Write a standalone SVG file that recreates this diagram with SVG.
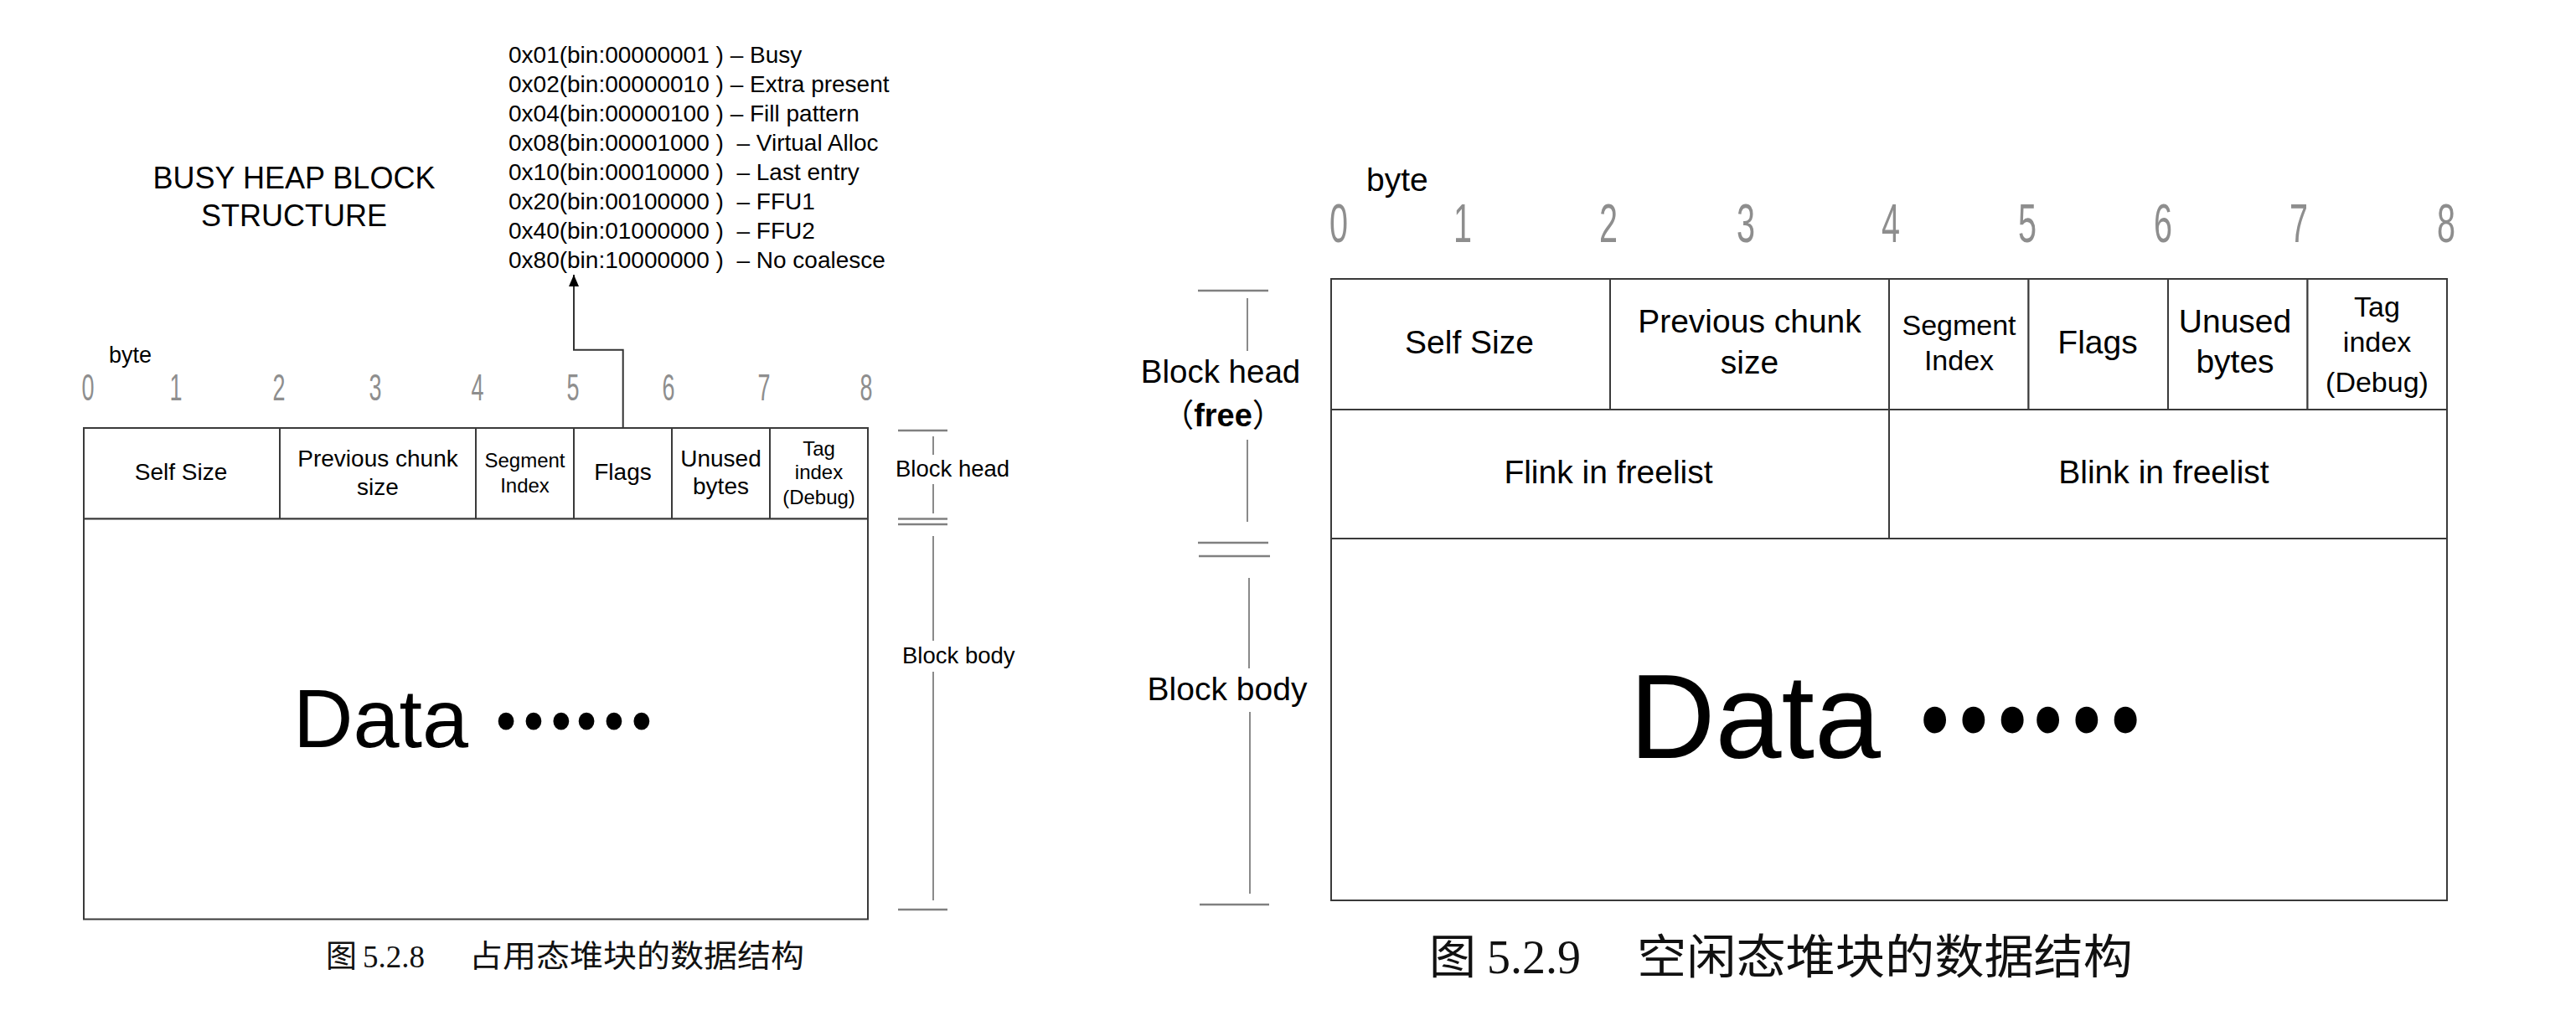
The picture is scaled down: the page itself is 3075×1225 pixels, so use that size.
<svg xmlns="http://www.w3.org/2000/svg" width="3075" height="1225" viewBox="0 0 3075 1225">
<style>
.bg{fill:#ffffff}
.cell{fill:#ffffff;stroke:#3a3a3a;stroke-width:2}
.t{font-family:"Liberation Sans",Arial,sans-serif;fill:#000000}
.m{text-anchor:middle}
.dig{font-family:"Liberation Sans",Arial,sans-serif;fill:#8e8e8e;text-anchor:middle}
.dots{font-family:"Noto Sans CJK SC",sans-serif;font-weight:bold;fill:#000000;stroke:#000000}
.cap{font-family:"Liberation Serif","Noto Sans CJK SC",serif;fill:#111111}
.cjk{font-family:"Noto Sans CJK SC",sans-serif}
.bar{stroke:#808080;stroke-width:2.5;fill:none}
.vl{stroke:#8a8a8a;stroke-width:2;fill:none}
.conn{stroke:#333333;stroke-width:2;fill:none}
</style>
<defs>
<marker id="arrow" markerUnits="userSpaceOnUse" markerWidth="14" markerHeight="12" refX="14" refY="6" orient="auto">
<path d="M0,0 L14,6 L0,12 z" fill="#000000"/>
</marker>
</defs>
<rect class="bg" x="0" y="0" width="3075" height="1225"/>

<!-- ===== Left diagram: busy heap block ===== -->
<g id="busy-title">
<text class="t m" x="351" y="225" font-size="36">BUSY HEAP BLOCK</text>
<text class="t m" x="351" y="270" font-size="36">STRUCTURE</text>
</g>

<g id="flags-legend" font-size="28">
<text class="t" x="607" y="75" xml:space="preserve">0x01(bin:00000001 ) – Busy</text>
<text class="t" x="607" y="110" xml:space="preserve">0x02(bin:00000010 ) – Extra present</text>
<text class="t" x="607" y="145" xml:space="preserve">0x04(bin:00000100 ) – Fill pattern</text>
<text class="t" x="607" y="180" xml:space="preserve">0x08(bin:00001000 )  – Virtual Alloc</text>
<text class="t" x="607" y="215" xml:space="preserve">0x10(bin:00010000 )  – Last entry</text>
<text class="t" x="607" y="250" xml:space="preserve">0x20(bin:00100000 )  – FFU1</text>
<text class="t" x="607" y="285" xml:space="preserve">0x40(bin:01000000 )  – FFU2</text>
<text class="t" x="607" y="320" xml:space="preserve">0x80(bin:10000000 )  – No coalesce</text>
</g>

<g id="busy-scale">
<text class="t" x="130" y="433" font-size="27">byte</text>
<g font-size="44">
<text class="dig" x="105" y="478" textLength="15" lengthAdjust="spacingAndGlyphs">0</text>
<text class="dig" x="210" y="478" textLength="15" lengthAdjust="spacingAndGlyphs">1</text>
<text class="dig" x="333" y="478" textLength="15" lengthAdjust="spacingAndGlyphs">2</text>
<text class="dig" x="448" y="478" textLength="15" lengthAdjust="spacingAndGlyphs">3</text>
<text class="dig" x="570" y="478" textLength="15" lengthAdjust="spacingAndGlyphs">4</text>
<text class="dig" x="684" y="478" textLength="15" lengthAdjust="spacingAndGlyphs">5</text>
<text class="dig" x="798" y="478" textLength="15" lengthAdjust="spacingAndGlyphs">6</text>
<text class="dig" x="912" y="478" textLength="15" lengthAdjust="spacingAndGlyphs">7</text>
<text class="dig" x="1034" y="478" textLength="15" lengthAdjust="spacingAndGlyphs">8</text>
</g>
</g>

<g id="busy-self-size">
<rect class="cell" x="100" y="511" width="234" height="108.5"/>
<text class="t m" x="216" y="573" font-size="28">Self Size</text>
</g>
<g id="busy-prev-size">
<rect class="cell" x="334" y="511" width="234" height="108.5"/>
<text class="t m" x="451" y="557" font-size="28">Previous chunk</text>
<text class="t m" x="451" y="591" font-size="28">size</text>
</g>
<g id="busy-segment">
<rect class="cell" x="568" y="511" width="117" height="108.5"/>
<text class="t m" x="626.5" y="558" font-size="24">Segment</text>
<text class="t m" x="626.5" y="588" font-size="24">Index</text>
</g>
<g id="busy-flags">
<rect class="cell" x="685" y="511" width="117" height="108.5"/>
<text class="t m" x="743.5" y="573" font-size="28">Flags</text>
</g>
<g id="busy-unused">
<rect class="cell" x="802" y="511" width="117" height="108.5"/>
<text class="t m" x="860.5" y="557" font-size="28">Unused</text>
<text class="t m" x="860.5" y="590" font-size="28">bytes</text>
</g>
<g id="busy-tag">
<rect class="cell" x="919" y="511" width="117" height="108.5"/>
<text class="t m" x="977.5" y="544" font-size="24">Tag</text>
<text class="t m" x="977.5" y="572" font-size="24">index</text>
<text class="t m" x="977.5" y="602" font-size="24">(Debug)</text>
</g>
<g id="busy-body">
<rect class="cell" x="100" y="619.5" width="936" height="478"/>
<text class="t" y="892"><tspan x="350" font-size="99">Data</tspan><tspan class="dots" x="588" y="869" font-size="93" stroke-width="3" textLength="192" lengthAdjust="spacingAndGlyphs">……</tspan></text>
</g>

<g id="busy-side-labels">
<line class="bar" x1="1072" y1="514" x2="1131" y2="514" stroke="#444"/>
<line class="vl" x1="1114" y1="521" x2="1114" y2="543"/>
<text class="t" x="1069" y="569" font-size="27.5">Block head</text>
<line class="vl" x1="1114" y1="578" x2="1114" y2="613"/>
<line class="bar" x1="1072" y1="619.5" x2="1131" y2="619.5"/>
<line class="bar" x1="1072" y1="626" x2="1131" y2="626"/>
<line class="vl" x1="1114" y1="640" x2="1114" y2="765"/>
<text class="t" x="1077" y="792" font-size="27.5">Block body</text>
<line class="vl" x1="1114" y1="802" x2="1114" y2="1075"/>
<line class="bar" x1="1072" y1="1086" x2="1131" y2="1086"/>
</g>

<g id="busy-caption">
<text class="cap" y="1155" font-size="37"><tspan class="cjk" x="389">图</tspan><tspan x="433">5.2.8</tspan><tspan class="cjk" x="560" textLength="400" lengthAdjust="spacingAndGlyphs">占用态堆块的数据结构</tspan></text>
</g>

<g id="connectors">
<path class="conn" d="M743.7,511 V417.7 H685 V328" marker-end="url(#arrow)"/>
</g>

<!-- ===== Right diagram: free heap block ===== -->
<g id="free-scale">
<text class="t" x="1631" y="228" font-size="39">byte</text>
<g font-size="64">
<text class="dig" x="1598" y="289" textLength="22" lengthAdjust="spacingAndGlyphs">0</text>
<text class="dig" x="1746" y="289" textLength="22" lengthAdjust="spacingAndGlyphs">1</text>
<text class="dig" x="1920" y="289" textLength="22" lengthAdjust="spacingAndGlyphs">2</text>
<text class="dig" x="2084" y="289" textLength="22" lengthAdjust="spacingAndGlyphs">3</text>
<text class="dig" x="2257" y="289" textLength="22" lengthAdjust="spacingAndGlyphs">4</text>
<text class="dig" x="2420" y="289" textLength="22" lengthAdjust="spacingAndGlyphs">5</text>
<text class="dig" x="2582" y="289" textLength="22" lengthAdjust="spacingAndGlyphs">6</text>
<text class="dig" x="2744" y="289" textLength="22" lengthAdjust="spacingAndGlyphs">7</text>
<text class="dig" x="2920" y="289" textLength="22" lengthAdjust="spacingAndGlyphs">8</text>
</g>
</g>

<g id="free-self-size">
<rect class="cell" x="1589" y="333" width="333" height="156"/>
<text class="t m" x="1754" y="422" font-size="39">Self Size</text>
</g>
<g id="free-prev-size">
<rect class="cell" x="1922" y="333" width="333" height="156"/>
<text class="t m" x="2088.5" y="397" font-size="39">Previous chunk</text>
<text class="t m" x="2088.5" y="446" font-size="39">size</text>
</g>
<g id="free-segment">
<rect class="cell" x="2255" y="333" width="166.5" height="156"/>
<text class="t m" x="2338.5" y="400" font-size="34">Segment</text>
<text class="t m" x="2338.5" y="442" font-size="34">Index</text>
</g>
<g id="free-flags">
<rect class="cell" x="2421.5" y="333" width="166.5" height="156"/>
<text class="t m" x="2504" y="422" font-size="39">Flags</text>
</g>
<g id="free-unused">
<rect class="cell" x="2588" y="333" width="166.5" height="156"/>
<text class="t m" x="2668" y="397" font-size="39">Unused</text>
<text class="t m" x="2668" y="445" font-size="39">bytes</text>
</g>
<g id="free-tag">
<rect class="cell" x="2754.5" y="333" width="166.5" height="156"/>
<text class="t m" x="2837.5" y="378" font-size="34">Tag</text>
<text class="t m" x="2837.5" y="420" font-size="34">index</text>
<text class="t m" x="2837.5" y="468" font-size="34">(Debug)</text>
</g>
<g id="free-flink">
<rect class="cell" x="1589" y="489" width="666" height="154"/>
<text class="t m" x="1920" y="577" font-size="39">Flink in freelist</text>
</g>
<g id="free-blink">
<rect class="cell" x="2255" y="489" width="666" height="154"/>
<text class="t m" x="2583" y="577" font-size="39">Blink in freelist</text>
</g>
<g id="free-body">
<rect class="cell" x="1589" y="643" width="1332" height="432"/>
<text class="t" y="905"><tspan x="1945" font-size="142">Data</tspan><tspan class="dots" x="2287" y="871" font-size="140" stroke-width="5" textLength="270" lengthAdjust="spacingAndGlyphs">……</tspan></text>
</g>

<g id="free-side-labels">
<line class="bar" x1="1430" y1="347" x2="1514" y2="347"/>
<line class="vl" x1="1489" y1="356" x2="1489" y2="419"/>
<text class="t m" x="1457" y="457" font-size="38.5">Block head</text>
<text class="t m" x="1460" y="509" font-size="38"><tspan class="cjk">（</tspan><tspan font-weight="bold">free</tspan><tspan class="cjk">）</tspan></text>
<line class="vl" x1="1489" y1="525" x2="1489" y2="623"/>
<line class="bar" x1="1430" y1="648" x2="1514" y2="648"/>
<line class="bar" x1="1431" y1="664" x2="1516" y2="664"/>
<line class="vl" x1="1491" y1="690" x2="1491" y2="798"/>
<text class="t m" x="1465" y="836" font-size="39">Block body</text>
<line class="vl" x1="1492" y1="850" x2="1492" y2="1067"/>
<line class="bar" x1="1432" y1="1080" x2="1515" y2="1080"/>
</g>

<g id="free-caption">
<text class="cap" y="1162" font-size="56"><tspan class="cjk" x="1706">图</tspan><tspan x="1775">5.2.9</tspan><tspan class="cjk" x="1954" textLength="592" lengthAdjust="spacingAndGlyphs">空闲态堆块的数据结构</tspan></text>
</g>
</svg>
